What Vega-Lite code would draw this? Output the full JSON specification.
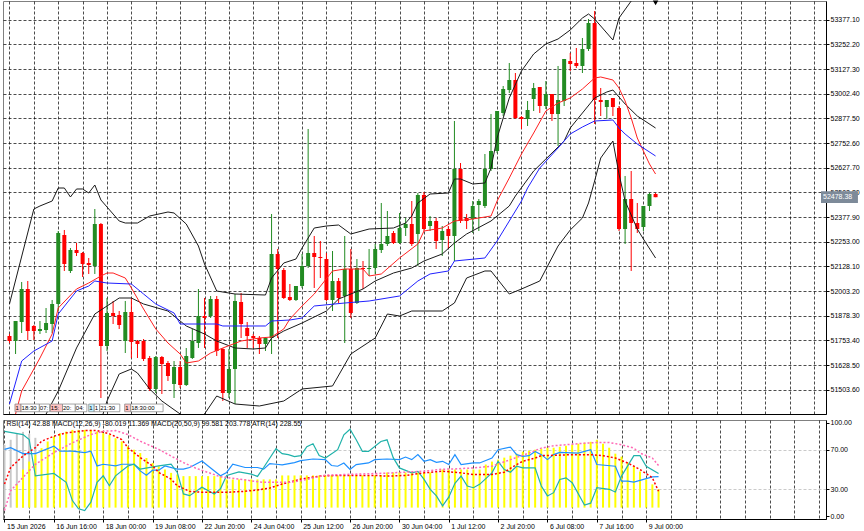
{
"$schema":"https://vega.github.io/schema/vega-lite/v6.json",
"padding":0,
"background":"#ffffff",
"spacing":3,
"resolve":{"scale":{"x":"independent","y":"independent","color":"independent"}},
"config":{"view":{"stroke":"#808080"},"axis":{"labelFont":"Liberation Sans","labelFontSize":7,"labelColor":"#000000","tickColor":"#000000","gridColor":"#000000","gridDash":[3,2],"gridOpacity":0.7,"gridWidth":1,"labelOverlap":false},"text":{"font":"Liberation Sans"}},
"datasets":{
"bars":[
{"k":0,"o":51775.5,"h":51785.7,"l":51740.1,"c":51750.2,"m":null,"g":75},
{"k":1,"o":51750.2,"h":51851.5,"l":51684.4,"c":51851.5,"m":null,"g":80},
{"k":2,"o":51846.4,"h":52049.0,"l":51790.7,"c":52013.5,"m":35,"g":86},
{"k":3,"o":52013.5,"h":52054.0,"l":51755.3,"c":51800.8,"m":50,"g":88},
{"k":4,"o":51826.2,"h":51831.2,"l":51755.3,"c":51800.8,"m":58,"g":86},
{"k":5,"o":51800.8,"h":51851.5,"l":51785.7,"c":51811.0,"m":65,"g":82},
{"k":6,"o":51805.9,"h":51917.3,"l":51790.7,"c":51841.4,"m":71.6},
{"k":7,"o":51836.3,"h":51957.9,"l":51790.7,"c":51937.6,"m":78.3},
{"k":8,"o":51937.6,"h":52307.2,"l":51902.1,"c":52297.1,"m":83.3},
{"k":9,"o":52287.0,"h":52312.3,"l":52104.7,"c":52140.1,"m":86.6},
{"k":10,"o":52104.7,"h":52221.1,"l":52094.5,"c":52211.0,"m":88.3},
{"k":11,"o":52211.0,"h":52246.5,"l":52180.6,"c":52195.8,"m":90},
{"k":12,"o":52195.8,"h":52200.9,"l":52074.3,"c":52140.1,"m":90},
{"k":13,"o":52145.2,"h":52170.5,"l":52089.5,"c":52135.0,"m":90},
{"k":14,"o":52130.0,"h":52418.6,"l":52089.5,"c":52342.6,"m":90},
{"k":15,"o":52342.6,"h":52347.7,"l":51461.6,"c":51724.9,"m":88.3},
{"k":16,"o":51724.9,"h":51968.0,"l":51699.6,"c":51892.0,"m":86.6},
{"k":17,"o":51892.0,"h":51952.8,"l":51836.3,"c":51876.8,"m":85},
{"k":18,"o":51881.9,"h":51902.1,"l":51811.0,"c":51831.2,"m":81.6},
{"k":19,"o":51750.2,"h":51952.8,"l":51689.4,"c":51897.1,"m":78.3},
{"k":20,"o":51897.1,"h":51968.0,"l":51664.1,"c":51745.1,"m":73.3},
{"k":21,"o":51750.2,"h":51755.3,"l":51664.1,"c":51735.0,"m":70},
{"k":22,"o":51750.2,"h":51760.3,"l":51648.9,"c":51659.1,"m":66.6},
{"k":23,"o":51664.1,"h":51674.3,"l":51497.1,"c":51507.2,"m":61.6},
{"k":24,"o":51507.2,"h":51674.3,"l":51486.9,"c":51669.2,"m":56.6},
{"k":25,"o":51669.2,"h":51674.3,"l":51481.9,"c":51633.7,"m":53.3},
{"k":26,"o":51638.8,"h":51648.9,"l":51547.7,"c":51573.0,"m":50},
{"k":27,"o":51532.5,"h":51648.9,"l":51461.6,"c":51618.6,"m":46.6},
{"k":28,"o":51618.6,"h":51648.9,"l":51512.2,"c":51527.4,"m":45},
{"k":29,"o":51527.4,"h":51714.8,"l":51522.4,"c":51674.3,"m":43.3},
{"k":30,"o":51664.1,"h":51811.0,"l":51659.1,"c":51750.2,"m":43.3},
{"k":31,"o":51740.1,"h":52013.5,"l":51714.8,"c":51876.8,"m":43.3},
{"k":32,"o":51876.8,"h":51968.0,"l":51714.8,"c":51866.7,"m":43.3},
{"k":33,"o":51876.8,"h":51978.1,"l":51866.7,"c":51962.9,"m":43.3},
{"k":34,"o":51962.9,"h":51978.1,"l":51674.3,"c":51699.6,"m":43.3},
{"k":35,"o":51709.7,"h":51714.8,"l":51446.4,"c":51486.9,"m":43.3},
{"k":36,"o":51486.9,"h":51709.7,"l":51461.6,"c":51608.4,"m":40},
{"k":37,"o":51608.4,"h":51988.2,"l":51431.2,"c":51952.8,"m":40},
{"k":38,"o":51947.7,"h":51993.3,"l":51765.4,"c":51836.3,"m":40},
{"k":39,"o":51816.0,"h":51846.4,"l":51714.8,"c":51775.5,"m":40},
{"k":40,"o":51775.5,"h":51785.7,"l":51714.8,"c":51765.4,"m":40},
{"k":41,"o":51765.4,"h":51775.5,"l":51684.4,"c":51735.0,"m":40},
{"k":42,"o":51735.0,"h":51770.5,"l":51699.6,"c":51765.4,"m":40},
{"k":43,"o":51765.4,"h":52393.3,"l":51684.4,"c":52190.7,"m":40},
{"k":44,"o":52190.7,"h":52216.1,"l":51765.4,"c":52114.8,"m":40},
{"k":45,"o":52109.7,"h":52119.8,"l":51962.9,"c":51968.0,"m":44},
{"k":46,"o":51973.0,"h":52038.8,"l":51952.8,"c":51957.9,"m":44},
{"k":47,"o":51957.9,"h":52028.7,"l":51952.8,"c":52028.7,"m":44},
{"k":48,"o":52028.7,"h":52190.7,"l":52018.6,"c":52130.0,"m":44},
{"k":49,"o":52130.0,"h":52823.7,"l":52119.8,"c":52195.8,"m":44},
{"k":50,"o":52195.8,"h":52281.9,"l":52018.6,"c":52175.5,"m":44},
{"k":51,"o":52175.5,"h":52256.6,"l":52069.2,"c":52170.5,"m":44},
{"k":52,"o":52165.4,"h":52195.8,"l":51952.8,"c":51957.9,"m":44},
{"k":53,"o":51957.9,"h":52205.9,"l":51902.1,"c":52054.0,"m":44},
{"k":54,"o":52054.0,"h":52069.2,"l":51942.6,"c":51968.0,"m":44},
{"k":55,"o":51978.1,"h":52281.9,"l":51740.1,"c":52114.8,"m":44},
{"k":56,"o":52114.8,"h":52216.1,"l":51866.7,"c":51892.0,"m":44},
{"k":57,"o":51942.6,"h":52165.4,"l":51937.6,"c":52119.8,"m":44},
{"k":58,"o":52119.8,"h":52155.3,"l":52013.5,"c":52114.8,"m":44},
{"k":59,"o":52114.8,"h":52216.1,"l":52079.3,"c":52119.8,"m":44},
{"k":60,"o":52119.8,"h":52241.4,"l":52089.5,"c":52216.1,"m":44},
{"k":61,"o":52211.0,"h":52449.0,"l":52195.8,"c":52241.4,"m":44},
{"k":62,"o":52241.4,"h":52408.5,"l":52231.2,"c":52281.9,"m":47},
{"k":63,"o":52297.1,"h":52307.2,"l":52241.4,"c":52246.5,"m":47},
{"k":64,"o":52246.5,"h":52398.3,"l":52241.4,"c":52322.4,"m":47},
{"k":65,"o":52322.4,"h":52373.0,"l":52281.9,"c":52342.6,"m":47},
{"k":66,"o":52342.6,"h":52459.1,"l":52231.2,"c":52241.4,"m":47},
{"k":67,"o":52292.0,"h":52499.6,"l":52130.0,"c":52489.5,"m":47},
{"k":68,"o":52489.5,"h":52504.7,"l":52307.2,"c":52317.3,"m":47},
{"k":69,"o":52332.5,"h":52383.1,"l":52307.2,"c":52357.8,"m":47},
{"k":70,"o":52357.8,"h":52373.0,"l":52216.1,"c":52256.6,"m":47},
{"k":71,"o":52261.7,"h":52332.5,"l":52180.6,"c":52307.2,"m":50},
{"k":72,"o":52317.3,"h":52332.5,"l":52216.1,"c":52281.9,"m":50},
{"k":73,"o":52281.9,"h":52864.2,"l":52155.3,"c":52621.1,"m":50},
{"k":74,"o":52621.1,"h":52651.5,"l":52347.7,"c":52357.8,"m":50},
{"k":75,"o":52373.0,"h":52393.3,"l":52317.3,"c":52357.8,"m":50},
{"k":76,"o":52368.0,"h":52459.1,"l":52297.1,"c":52433.8,"m":50},
{"k":77,"o":52438.8,"h":52469.2,"l":52307.2,"c":52459.1,"m":50},
{"k":78,"o":52433.8,"h":52697.1,"l":52423.6,"c":52621.1,"m":55},
{"k":79,"o":52621.1,"h":52899.6,"l":52611.0,"c":52712.3,"m":58},
{"k":80,"o":52712.3,"h":52914.8,"l":52702.1,"c":52914.8,"m":60},
{"k":81,"o":52904.7,"h":53041.4,"l":52889.5,"c":53026.2,"m":62},
{"k":82,"o":53021.1,"h":53157.9,"l":53006.0,"c":53071.8,"m":64},
{"k":83,"o":53071.8,"h":53107.2,"l":52874.3,"c":52879.4,"m":66},
{"k":84,"o":52884.4,"h":52889.5,"l":52823.7,"c":52874.3,"m":68},
{"k":85,"o":52874.3,"h":52965.5,"l":52838.9,"c":52919.9,"m":69},
{"k":86,"o":52975.6,"h":53056.6,"l":52914.8,"c":53031.3,"m":70},
{"k":87,"o":53036.3,"h":53036.3,"l":52904.7,"c":52940.1,"m":71},
{"k":88,"o":52940.1,"h":53066.7,"l":52924.9,"c":53000.9,"m":72},
{"k":89,"o":53000.9,"h":53000.9,"l":52864.2,"c":52899.6,"m":72},
{"k":90,"o":52899.6,"h":53142.7,"l":52737.6,"c":52970.5,"m":73},
{"k":91,"o":52965.5,"h":53178.2,"l":52940.1,"c":53178.2,"m":74},
{"k":92,"o":53168.0,"h":53208.5,"l":53117.4,"c":53152.8,"m":75},
{"k":93,"o":53157.9,"h":53233.8,"l":53132.5,"c":53142.7,"m":76},
{"k":94,"o":53142.7,"h":53284.5,"l":53107.2,"c":53228.8,"m":77},
{"k":95,"o":53228.8,"h":53380.7,"l":53218.6,"c":53360.4,"m":78},
{"k":96,"o":53360.4,"h":53421.2,"l":52849.0,"c":52970.5,"m":80},
{"k":97,"o":52970.5,"h":53031.3,"l":52889.5,"c":52960.4,"m":76},
{"k":98,"o":52935.1,"h":52970.5,"l":52874.3,"c":52970.5,"m":72},
{"k":99,"o":52980.6,"h":52980.6,"l":52889.5,"c":52935.1,"m":66},
{"k":100,"o":52930.0,"h":52940.1,"l":52307.2,"c":52317.3,"m":63},
{"k":101,"o":52317.3,"h":52585.7,"l":52241.4,"c":52469.2,"m":57},
{"k":102,"o":52469.2,"h":52611.0,"l":52104.7,"c":52347.7,"m":53},
{"k":103,"o":52347.7,"h":52449.0,"l":52297.1,"c":52317.3,"m":48},
{"k":104,"o":52327.4,"h":52433.8,"l":52307.2,"c":52433.8,"m":40},
{"k":105,"o":52433.8,"h":52499.6,"l":52408.5,"c":52494.5,"m":35},
{"k":106,"o":52494.5,"h":52499.6,"l":52478.38,"c":52478.38,"m":30}
],
"lines":[
{"s":"ub","k":0,"v":51937.6},{"s":"ub","k":4,"v":52418.6},{"s":"ub","k":5,"v":52433.8},{"s":"ub","k":7,"v":52459.1},{"s":"ub","k":8,"v":52524.9},{"s":"ub","k":9,"v":52524.9},{"s":"ub","k":10,"v":52479.4},{"s":"ub","k":11,"v":52519.9},{"s":"ub","k":12,"v":52519.9},{"s":"ub","k":13,"v":52499.6},{"s":"ub","k":14,"v":52540.1},{"s":"ub","k":15,"v":52464.2},{"s":"ub","k":18,"v":52357.8},{"s":"ub","k":19,"v":52347.7},{"s":"ub","k":21,"v":52347.7},{"s":"ub","k":23,"v":52383.1},{"s":"ub","k":26,"v":52403.4},{"s":"ub","k":27,"v":52398.4},{"s":"ub","k":29,"v":52342.6},{"s":"ub","k":31,"v":52231.2},{"s":"ub","k":32,"v":52140.1},{"s":"ub","k":34,"v":52003.4},{"s":"ub","k":37,"v":51988.2},{"s":"ub","k":42,"v":51983.1},{"s":"ub","k":43,"v":52069.2},{"s":"ub","k":45,"v":52145.2},{"s":"ub","k":47,"v":52165.4},{"s":"ub","k":48,"v":52221.1},{"s":"ub","k":50,"v":52322.4},{"s":"ub","k":52,"v":52332.5},{"s":"ub","k":54,"v":52337.6},{"s":"ub","k":56,"v":52292.0},{"s":"ub","k":59,"v":52317.3},{"s":"ub","k":63,"v":52322.4},{"s":"ub","k":65,"v":52347.7},{"s":"ub","k":66,"v":52383.1},{"s":"ub","k":67,"v":52449.0},{"s":"ub","k":69,"v":52494.5},{"s":"ub","k":72,"v":52499.6},{"s":"ub","k":73,"v":52570.5},{"s":"ub","k":74,"v":52570.5},{"s":"ub","k":76,"v":52545.2},{"s":"ub","k":78,"v":52550.2},{"s":"ub","k":79,"v":52626.2},{"s":"ub","k":80,"v":52778.1},{"s":"ub","k":82,"v":52980.6},{"s":"ub","k":84,"v":53117.4},{"s":"ub","k":86,"v":53203.4},{"s":"ub","k":88,"v":53254.1},{"s":"ub","k":90,"v":53279.4},{"s":"ub","k":92,"v":53325.0},{"s":"ub","k":94,"v":53385.7},{"s":"ub","k":95,"v":53406.0},{"s":"ub","k":96,"v":53380.7},{"s":"ub","k":99,"v":53274.3},{"s":"ub","k":100,"v":53385.7},{"s":"ub","k":102,"v":53471.8},{"s":"ub","k":104,"v":53560},{"s":"ub","k":106,"v":53640},
{"s":"mb","k":0,"v":50950},{"s":"mb","k":6,"v":51380},{"s":"mb","k":8,"v":51497.0},{"s":"mb","k":11,"v":51714.8},{"s":"mb","k":14,"v":51886.9},{"s":"mb","k":18,"v":51967.9},{"s":"mb","k":20,"v":51967.9},{"s":"mb","k":22,"v":51937.6},{"s":"mb","k":26,"v":51902.1},{"s":"mb","k":28,"v":51851.5},{"s":"mb","k":29,"v":51826.2},{"s":"mb","k":32,"v":51785.7},{"s":"mb","k":34,"v":51750.2},{"s":"mb","k":37,"v":51714.8},{"s":"mb","k":40,"v":51709.7},{"s":"mb","k":42,"v":51714.8},{"s":"mb","k":43,"v":51765.4},{"s":"mb","k":45,"v":51800.8},{"s":"mb","k":48,"v":51841.4},{"s":"mb","k":52,"v":51902.1},{"s":"mb","k":54,"v":51962.9},{"s":"mb","k":58,"v":52013.5},{"s":"mb","k":60,"v":52054.0},{"s":"mb","k":63,"v":52094.5},{"s":"mb","k":66,"v":52119.8},{"s":"mb","k":68,"v":52155.3},{"s":"mb","k":71,"v":52190.7},{"s":"mb","k":73,"v":52246.4},{"s":"mb","k":75,"v":52292.0},{"s":"mb","k":79,"v":52357.8},{"s":"mb","k":82,"v":52433.8},{"s":"mb","k":83,"v":52484.4},{"s":"mb","k":86,"v":52611.0},{"s":"mb","k":88,"v":52671.8},{"s":"mb","k":90,"v":52732.5},{"s":"mb","k":91,"v":52762.9},{"s":"mb","k":92,"v":52828.7},{"s":"mb","k":94,"v":52904.7},{"s":"mb","k":96,"v":52980.6},{"s":"mb","k":98,"v":53011.0},{"s":"mb","k":99,"v":53021.1},{"s":"mb","k":101,"v":52950.3},{"s":"mb","k":103,"v":52889.5},{"s":"mb","k":106,"v":52828.7},
{"s":"lb","k":0,"v":49960},{"s":"lb","k":8,"v":50470},{"s":"lb","k":12,"v":51040},{"s":"lb","k":14,"v":51234},{"s":"lb","k":15,"v":51345.1},{"s":"lb","k":16,"v":51446.4},{"s":"lb","k":18,"v":51583.1},{"s":"lb","k":20,"v":51608.4},{"s":"lb","k":21,"v":51588.2},{"s":"lb","k":23,"v":51507.2},{"s":"lb","k":25,"v":51446.4},{"s":"lb","k":28,"v":51380.6},{"s":"lb","k":30,"v":51345.0},{"s":"lb","k":32,"v":51380.6},{"s":"lb","k":34,"v":51471.7},{"s":"lb","k":37,"v":51431.2},{"s":"lb","k":41,"v":51421.1},{"s":"lb","k":45,"v":51446.4},{"s":"lb","k":48,"v":51507.2},{"s":"lb","k":53,"v":51522.4},{"s":"lb","k":56,"v":51684.4},{"s":"lb","k":60,"v":51765.4},{"s":"lb","k":62,"v":51886.9},{"s":"lb","k":64,"v":51876.8},{"s":"lb","k":66,"v":51902.1},{"s":"lb","k":71,"v":51902.1},{"s":"lb","k":73,"v":51942.6},{"s":"lb","k":75,"v":52069.2},{"s":"lb","k":78,"v":52104.7},{"s":"lb","k":79,"v":52104.7},{"s":"lb","k":82,"v":51988.2},{"s":"lb","k":84,"v":52013.5},{"s":"lb","k":87,"v":52054.0},{"s":"lb","k":90,"v":52231.2},{"s":"lb","k":92,"v":52312.3},{"s":"lb","k":94,"v":52373.0},{"s":"lb","k":95,"v":52449.0},{"s":"lb","k":96,"v":52560.4},{"s":"lb","k":97,"v":52676.8},{"s":"lb","k":99,"v":52762.9},{"s":"lb","k":100,"v":52595.8},{"s":"lb","k":101,"v":52459.1},{"s":"lb","k":103,"v":52317.3},{"s":"lb","k":104,"v":52266.7},{"s":"lb","k":106,"v":52170.5},
{"s":"ma","k":0,"v":51250},{"s":"ma","k":1,"v":51380.6},{"s":"ma","k":2,"v":51497.0},{"s":"ma","k":5,"v":51664.1},{"s":"ma","k":7,"v":51785.7},{"s":"ma","k":8,"v":51917.3},{"s":"ma","k":11,"v":52013.5},{"s":"ma","k":13,"v":52043.9},{"s":"ma","k":15,"v":52079.3},{"s":"ma","k":16,"v":52094.5},{"s":"ma","k":17,"v":52094.5},{"s":"ma","k":19,"v":52069.2},{"s":"ma","k":20,"v":52018.6},{"s":"ma","k":22,"v":51912.2},{"s":"ma","k":24,"v":51811.0},{"s":"ma","k":26,"v":51740.1},{"s":"ma","k":28,"v":51684.4},{"s":"ma","k":29,"v":51638.8},{"s":"ma","k":31,"v":51649.0},{"s":"ma","k":33,"v":51689.4},{"s":"ma","k":35,"v":51714.8},{"s":"ma","k":38,"v":51750.2},{"s":"ma","k":41,"v":51765.4},{"s":"ma","k":43,"v":51770.5},{"s":"ma","k":45,"v":51811.0},{"s":"ma","k":46,"v":51861.6},{"s":"ma","k":48,"v":51927.4},{"s":"ma","k":50,"v":51988.2},{"s":"ma","k":53,"v":52104.7},{"s":"ma","k":55,"v":52114.8},{"s":"ma","k":58,"v":52114.8},{"s":"ma","k":59,"v":52079.3},{"s":"ma","k":61,"v":52089.5},{"s":"ma","k":64,"v":52170.5},{"s":"ma","k":67,"v":52241.4},{"s":"ma","k":68,"v":52307.2},{"s":"ma","k":71,"v":52322.4},{"s":"ma","k":73,"v":52357.8},{"s":"ma","k":76,"v":52368.0},{"s":"ma","k":79,"v":52383.1},{"s":"ma","k":80,"v":52459.1},{"s":"ma","k":82,"v":52575.6},{"s":"ma","k":84,"v":52697.1},{"s":"ma","k":86,"v":52803.4},{"s":"ma","k":88,"v":52914.8},{"s":"ma","k":90,"v":52955.3},{"s":"ma","k":92,"v":52980.6},{"s":"ma","k":94,"v":53026.2},{"s":"ma","k":96,"v":53081.9},{"s":"ma","k":97,"v":53087.0},{"s":"ma","k":99,"v":53071.8},{"s":"ma","k":100,"v":53031.3},{"s":"ma","k":101,"v":52965.4},{"s":"ma","k":102,"v":52879.4},{"s":"ma","k":103,"v":52778.1},{"s":"ma","k":104,"v":52712.3},{"s":"ma","k":105,"v":52646.4},{"s":"ma","k":106,"v":52595.8},
{"s":"ma2","k":0,"v":51431.2},{"s":"ma2","k":2,"v":51648.9},{"s":"ma2","k":4,"v":51699.6},{"s":"ma2","k":7,"v":51750.2},{"s":"ma2","k":8,"v":51886.9},{"s":"ma2","k":11,"v":52003.4},{"s":"ma2","k":13,"v":52028.7},{"s":"ma2","k":14,"v":52054.0},{"s":"ma2","k":16,"v":52043.9},{"s":"ma2","k":20,"v":52038.8},{"s":"ma2","k":22,"v":51988.2},{"s":"ma2","k":24,"v":51937.6},{"s":"ma2","k":27,"v":51892.0},{"s":"ma2","k":28,"v":51836.3},{"s":"ma2","k":34,"v":51836.3},{"s":"ma2","k":35,"v":51826.2},{"s":"ma2","k":42,"v":51826.2},{"s":"ma2","k":43,"v":51851.5},{"s":"ma2","k":46,"v":51856.5},{"s":"ma2","k":48,"v":51866.7},{"s":"ma2","k":50,"v":51927.4},{"s":"ma2","k":55,"v":51942.6},{"s":"ma2","k":59,"v":51952.7},{"s":"ma2","k":64,"v":51978.1},{"s":"ma2","k":67,"v":52054.0},{"s":"ma2","k":69,"v":52089.5},{"s":"ma2","k":72,"v":52104.7},{"s":"ma2","k":73,"v":52155.3},{"s":"ma2","k":78,"v":52170.5},{"s":"ma2","k":80,"v":52256.6},{"s":"ma2","k":82,"v":52357.8},{"s":"ma2","k":84,"v":52459.1},{"s":"ma2","k":85,"v":52524.9},{"s":"ma2","k":87,"v":52626.2},{"s":"ma2","k":90,"v":52727.5},{"s":"ma2","k":92,"v":52798.4},{"s":"ma2","k":94,"v":52833.8},{"s":"ma2","k":96,"v":52864.2},{"s":"ma2","k":99,"v":52869.2},{"s":"ma2","k":100,"v":52828.7},{"s":"ma2","k":101,"v":52798.4},{"s":"ma2","k":103,"v":52747.7},{"s":"ma2","k":106,"v":52687.0}
],
"ind":[
{"s":"rsi","k":0,"v":70.3},{"s":"rsi","k":1,"v":72},{"s":"rsi","k":3,"v":66},{"s":"rsi","k":5,"v":66},{"s":"rsi","k":8,"v":73.6},{"s":"rsi","k":9,"v":68.6},{"s":"rsi","k":11,"v":68.6},{"s":"rsi","k":13,"v":67},{"s":"rsi","k":14,"v":68.6},{"s":"rsi","k":15,"v":53.6},{"s":"rsi","k":16,"v":55.3},{"s":"rsi","k":18,"v":53.6},{"s":"rsi","k":19,"v":55.3},{"s":"rsi","k":21,"v":55.3},{"s":"rsi","k":22,"v":48.6},{"s":"rsi","k":23,"v":44.3},{"s":"rsi","k":24,"v":49.3},{"s":"rsi","k":25,"v":49.3},{"s":"rsi","k":26,"v":53.6},{"s":"rsi","k":28,"v":50.3},{"s":"rsi","k":29,"v":50.3},{"s":"rsi","k":30,"v":52},{"s":"rsi","k":32,"v":58.6},{"s":"rsi","k":33,"v":53.6},{"s":"rsi","k":35,"v":43.6},{"s":"rsi","k":36,"v":47},{"s":"rsi","k":37,"v":55.3},{"s":"rsi","k":39,"v":52},{"s":"rsi","k":41,"v":52},{"s":"rsi","k":42,"v":50.3},{"s":"rsi","k":43,"v":56},{"s":"rsi","k":44,"v":55.3},{"s":"rsi","k":45,"v":54.6},{"s":"rsi","k":47,"v":57},{"s":"rsi","k":48,"v":59},{"s":"rsi","k":50,"v":60.6},{"s":"rsi","k":52,"v":60},{"s":"rsi","k":53,"v":54},{"s":"rsi","k":54,"v":53.3},{"s":"rsi","k":55,"v":56.6},{"s":"rsi","k":56,"v":50},{"s":"rsi","k":57,"v":55},{"s":"rsi","k":59,"v":56.6},{"s":"rsi","k":60,"v":60},{"s":"rsi","k":62,"v":60.6},{"s":"rsi","k":64,"v":60},{"s":"rsi","k":65,"v":62.6},{"s":"rsi","k":66,"v":60},{"s":"rsi","k":67,"v":65},{"s":"rsi","k":68,"v":58.3},{"s":"rsi","k":69,"v":60},{"s":"rsi","k":70,"v":57.3},{"s":"rsi","k":71,"v":58.3},{"s":"rsi","k":72,"v":55},{"s":"rsi","k":73,"v":65},{"s":"rsi","k":74,"v":55},{"s":"rsi","k":76,"v":56.6},{"s":"rsi","k":77,"v":56.6},{"s":"rsi","k":79,"v":61.6},{"s":"rsi","k":80,"v":70},{"s":"rsi","k":82,"v":72.6},{"s":"rsi","k":83,"v":65},{"s":"rsi","k":84,"v":63.3},{"s":"rsi","k":85,"v":64},{"s":"rsi","k":86,"v":68.3},{"s":"rsi","k":87,"v":65},{"s":"rsi","k":88,"v":60},{"s":"rsi","k":89,"v":65},{"s":"rsi","k":90,"v":67.3},{"s":"rsi","k":93,"v":66.6},{"s":"rsi","k":95,"v":70},{"s":"rsi","k":96,"v":55},{"s":"rsi","k":99,"v":53.3},{"s":"rsi","k":100,"v":38.3},{"s":"rsi","k":101,"v":38.3},{"s":"rsi","k":102,"v":37.3},{"s":"rsi","k":105,"v":42.6},{"s":"rsi","k":106,"v":42.88},
{"s":"atr","k":0,"v":88.6},{"s":"atr","k":3,"v":85.3},{"s":"atr","k":4,"v":80.3},{"s":"atr","k":5,"v":43.6},{"s":"atr","k":8,"v":46},{"s":"atr","k":10,"v":37},{"s":"atr","k":11,"v":18.6},{"s":"atr","k":12,"v":10.3},{"s":"atr","k":13,"v":8.6},{"s":"atr","k":14,"v":17},{"s":"atr","k":15,"v":37},{"s":"atr","k":16,"v":43.6},{"s":"atr","k":17,"v":33.6},{"s":"atr","k":18,"v":43.6},{"s":"atr","k":20,"v":53.6},{"s":"atr","k":21,"v":55.3},{"s":"atr","k":22,"v":50.3},{"s":"atr","k":25,"v":53.6},{"s":"atr","k":27,"v":55.3},{"s":"atr","k":28,"v":47},{"s":"atr","k":29,"v":25.3},{"s":"atr","k":30,"v":23.6},{"s":"atr","k":32,"v":32},{"s":"atr","k":34,"v":25.3},{"s":"atr","k":35,"v":30.5},{"s":"atr","k":36,"v":44},{"s":"atr","k":38,"v":47.5},{"s":"atr","k":40,"v":45.3},{"s":"atr","k":41,"v":43},{"s":"atr","k":42,"v":52},{"s":"atr","k":44,"v":71},{"s":"atr","k":45,"v":66},{"s":"atr","k":46,"v":65},{"s":"atr","k":47,"v":63},{"s":"atr","k":48,"v":64},{"s":"atr","k":49,"v":73},{"s":"atr","k":50,"v":76},{"s":"atr","k":51,"v":64},{"s":"atr","k":52,"v":61.6},{"s":"atr","k":54,"v":70},{"s":"atr","k":55,"v":85},{"s":"atr","k":56,"v":90.6},{"s":"atr","k":57,"v":80},{"s":"atr","k":58,"v":68.3},{"s":"atr","k":59,"v":68.3},{"s":"atr","k":61,"v":78.3},{"s":"atr","k":62,"v":80},{"s":"atr","k":63,"v":62},{"s":"atr","k":64,"v":51.6},{"s":"atr","k":66,"v":46.6},{"s":"atr","k":67,"v":48},{"s":"atr","k":68,"v":40},{"s":"atr","k":69,"v":30},{"s":"atr","k":70,"v":23.3},{"s":"atr","k":71,"v":13.3},{"s":"atr","k":72,"v":22},{"s":"atr","k":73,"v":36},{"s":"atr","k":74,"v":43.3},{"s":"atr","k":75,"v":33.3},{"s":"atr","k":76,"v":31.6},{"s":"atr","k":77,"v":35},{"s":"atr","k":79,"v":46.6},{"s":"atr","k":80,"v":58.3},{"s":"atr","k":81,"v":50},{"s":"atr","k":82,"v":47.3},{"s":"atr","k":83,"v":53.3},{"s":"atr","k":84,"v":51.6},{"s":"atr","k":86,"v":51.6},{"s":"atr","k":87,"v":33.3},{"s":"atr","k":88,"v":23.3},{"s":"atr","k":89,"v":26.6},{"s":"atr","k":90,"v":40},{"s":"atr","k":91,"v":41.6},{"s":"atr","k":92,"v":36.6},{"s":"atr","k":94,"v":14},{"s":"atr","k":95,"v":16},{"s":"atr","k":96,"v":31.6},{"s":"atr","k":98,"v":30},{"s":"atr","k":99,"v":27.3},{"s":"atr","k":100,"v":43.3},{"s":"atr","k":102,"v":64},{"s":"atr","k":103,"v":64},{"s":"atr","k":104,"v":53.3},{"s":"atr","k":106,"v":46},
{"s":"s1","k":0,"v":35.3},{"s":"s1","k":1,"v":52},{"s":"s1","k":3,"v":63.6},{"s":"s1","k":5,"v":72},{"s":"s1","k":6,"v":78.6},{"s":"s1","k":8,"v":83.6},{"s":"s1","k":10,"v":87},{"s":"s1","k":13,"v":89.3},{"s":"s1","k":15,"v":89.3},{"s":"s1","k":17,"v":86},{"s":"s1","k":19,"v":80.3},{"s":"s1","k":20,"v":72},{"s":"s1","k":22,"v":62},{"s":"s1","k":24,"v":53.6},{"s":"s1","k":25,"v":47},{"s":"s1","k":27,"v":40.3},{"s":"s1","k":28,"v":33.6},{"s":"s1","k":30,"v":28},{"s":"s1","k":32,"v":27},{"s":"s1","k":34,"v":27},{"s":"s1","k":36,"v":27},{"s":"s1","k":39,"v":28},{"s":"s1","k":41,"v":29.3},{"s":"s1","k":43,"v":31.3},{"s":"s1","k":45,"v":35.3},{"s":"s1","k":47,"v":38.6},{"s":"s1","k":48,"v":40.3},{"s":"s1","k":51,"v":43.3},{"s":"s1","k":54,"v":44},{"s":"s1","k":57,"v":44},{"s":"s1","k":60,"v":44},{"s":"s1","k":62,"v":43.3},{"s":"s1","k":65,"v":44},{"s":"s1","k":68,"v":46.6},{"s":"s1","k":71,"v":48.3},{"s":"s1","k":74,"v":46.6},{"s":"s1","k":76,"v":45},{"s":"s1","k":79,"v":45},{"s":"s1","k":81,"v":47.3},{"s":"s1","k":83,"v":55},{"s":"s1","k":84,"v":58.3},{"s":"s1","k":86,"v":61.6},{"s":"s1","k":87,"v":64},{"s":"s1","k":89,"v":64.3},{"s":"s1","k":92,"v":65},{"s":"s1","k":95,"v":65},{"s":"s1","k":97,"v":64},{"s":"s1","k":99,"v":61.6},{"s":"s1","k":101,"v":56.6},{"s":"s1","k":103,"v":50},{"s":"s1","k":105,"v":41.6},{"s":"s1","k":106,"v":28},
{"s":"s2","k":0,"v":8.6},{"s":"s2","k":1,"v":28.6},{"s":"s2","k":3,"v":42},{"s":"s2","k":5,"v":55.3},{"s":"s2","k":8,"v":67},{"s":"s2","k":11,"v":77},{"s":"s2","k":14,"v":85.3},{"s":"s2","k":16,"v":88.6},{"s":"s2","k":18,"v":89.3},{"s":"s2","k":20,"v":85.3},{"s":"s2","k":22,"v":78.6},{"s":"s2","k":25,"v":70.3},{"s":"s2","k":27,"v":63.6},{"s":"s2","k":29,"v":57},{"s":"s2","k":31,"v":51.3},{"s":"s2","k":33,"v":47},{"s":"s2","k":35,"v":42.6},{"s":"s2","k":38,"v":40.3},{"s":"s2","k":40,"v":38.6},{"s":"s2","k":42,"v":37},{"s":"s2","k":44,"v":37},{"s":"s2","k":46,"v":37},{"s":"s2","k":48,"v":38.6},{"s":"s2","k":52,"v":44.3},{"s":"s2","k":57,"v":45.3},{"s":"s2","k":62,"v":46.3},{"s":"s2","k":68,"v":48.3},{"s":"s2","k":71,"v":50.3},{"s":"s2","k":73,"v":50.6},{"s":"s2","k":76,"v":51.6},{"s":"s2","k":79,"v":53.3},{"s":"s2","k":82,"v":60},{"s":"s2","k":85,"v":66.6},{"s":"s2","k":87,"v":71.6},{"s":"s2","k":89,"v":74},{"s":"s2","k":92,"v":75.6},{"s":"s2","k":94,"v":76.6},{"s":"s2","k":96,"v":77.3},{"s":"s2","k":98,"v":77.3},{"s":"s2","k":100,"v":75},{"s":"s2","k":102,"v":71.6},{"s":"s2","k":103,"v":66.6},{"s":"s2","k":105,"v":61.6},{"s":"s2","k":106,"v":54}
],
"ev":[
{"a":0.9,"b":1.9,"t":"1","cat":"p"},{"a":1.9,"b":4.9,"t":"18:30","cat":"w"},{"a":4.9,"b":6.6,"t":"07:","cat":"w"},{"a":6.7,"b":8.7,"t":"15:","cat":"p"},{"a":8.7,"b":10.8,"t":"20:","cat":"w"},{"a":10.8,"b":12.7,"t":"04:","cat":"w"},{"a":13.0,"b":13.9,"t":"1","cat":"c"},{"a":13.9,"b":14.8,"t":"1","cat":"w"},{"a":14.8,"b":18.1,"t":"21:30","cat":"w"},{"a":18.9,"b":19.9,"t":"1","cat":"p"},{"a":19.9,"b":25.2,"t":"18:30:00","cat":"w"}
]
},
"vconcat":[
{"width":823,"height":413,
"layer":[
{"data":{"name":"bars"},"mark":{"type":"rule","strokeWidth":1,"clip":true},
"encoding":{
"x":{"field":"k","type":"quantitative","scale":{"domain":[-0.243,133.14],"nice":false,"zero":false},"axis":{"orient":"bottom","values":[0,4,8,12,16,20,24,28,32,36,40,44,48,52,56,60,64,68,72,76,80,84,88,92,96,100,104,108,112,116,120,124,128,132],"tickCount":60,"labels":false,"ticks":false,"domain":true,"domainColor":"#000000","grid":true,"title":null}},
"y":{"field":"l","type":"quantitative","scale":{"domain":[51380.6,53471.8],"nice":false,"zero":false},"axis":{"orient":"right","values":[51503.6,51628.5,51753.4,51878.3,52003.2,52128.1,52253.0,52377.9,52502.8,52627.7,52752.6,52877.5,53002.4,53127.3,53252.2,53377.1],"tickCount":40,"format":".2f","tickSize":3,"labelPadding":1,"labelFlush":false,"labelOverlap":false,"labelBound":false,"domainColor":"#000000","grid":true,"title":null}},
"y2":{"field":"h"},
"color":{"condition":{"test":"datum.c >= datum.o","value":"#228b22"},"value":"#ff0000"}}},
{"data":{"name":"bars"},"mark":{"type":"bar","width":4,"clip":true},
"encoding":{
"x":{"field":"k","type":"quantitative"},
"y":{"field":"o","type":"quantitative"},
"y2":{"field":"c"},
"color":{"condition":{"test":"datum.c >= datum.o","value":"#228b22"},"value":"#ff0000"}}},
{"data":{"name":"lines"},"mark":{"type":"line","strokeWidth":1,"clip":true},
"encoding":{
"x":{"field":"k","type":"quantitative"},
"y":{"field":"v","type":"quantitative"},
"color":{"field":"s","type":"nominal","scale":{"domain":["ub","mb","lb","ma","ma2"],"range":["#1a1a1a","#1a1a1a","#1a1a1a","#ff2020","#2020ff"]},"legend":null}}},
{"data":{"name":"ev"},"mark":{"type":"rect","stroke":"#808080","strokeWidth":0.7},
"encoding":{
"x":{"field":"a","type":"quantitative"},"x2":{"field":"b"},
"y":{"datum":51431},"y2":{"datum":51392},
"fill":{"field":"cat","type":"nominal","scale":{"domain":["p","c","w"],"range":["#ffc4c4","#c4f0ff","#ffffff"]},"legend":null}}},
{"data":{"name":"ev"},"mark":{"type":"text","align":"left","baseline":"middle","dx":0.5,"fontSize":6,"color":"#000000"},
"encoding":{"x":{"field":"a","type":"quantitative"},"y":{"datum":51411},"text":{"field":"t"}}},
{"data":{"values":[{"p":52478.38}]},"mark":{"type":"rect","fill":"#7d8a99","clip":false},
"encoding":{"x":{"datum":133.14},"x2":{"datum":139.2},"y":{"datum":52508},"y2":{"datum":52449}}},
{"data":{"values":[{"p":52478.38}]},"mark":{"type":"text","align":"left","baseline":"middle","dx":2,"fontSize":7,"color":"#ffffff","clip":false},
"encoding":{"x":{"datum":133.14},"y":{"field":"p","type":"quantitative"},"text":{"field":"p","type":"quantitative","format":".2f"}}},
{"data":{"values":[{"k":106}]},"mark":{"type":"point","shape":"triangle-down","filled":true,"color":"#000000","size":30,"opacity":1,"clip":false},
"encoding":{"x":{"field":"k","type":"quantitative"},"y":{"datum":53462}}}
]},
{"width":823,"height":99,
"layer":[
{"data":{"name":"bars"},"transform":[{"filter":"isValid(datum.g)"}],"mark":{"type":"rule","color":"#c8c8c8","strokeWidth":2},
"encoding":{
"x":{"field":"k","type":"quantitative","scale":{"domain":[-0.243,133.14],"nice":false,"zero":false},"axis":{"orient":"bottom","values":[0,4,8,12,16,20,24,28,32,36,40,44,48,52,56,60,64,68,72,76,80,84,88,92,96,100,104,108,112,116,120,124,128,132],"tickCount":60,"grid":true,"labelExpr":"(datum.value % 8 === 0 && datum.value <= 104) ? ['15 Jun 2026','16 Jun 16:00','18 Jun 00:00','19 Jun 08:00','22 Jun 20:00','24 Jun 04:00','25 Jun 12:00','26 Jun 20:00','30 Jun 04:00','1 Jul 12:00','2 Jul 20:00','6 Jul 08:00','7 Jul 16:00','9 Jul 00:00'][datum.value / 8] : ''","labelAlign":"left","labelOffset":2,"labelPadding":0,"labelFlush":false,"labelOverlap":false,"labelBound":false,"tickSize":3,"tickOpacity":{"condition":{"test":"datum.value % 8 === 0 && datum.value <= 104","value":1},"value":0},"domainColor":"#000000","title":null}},
"y":{"field":"g","type":"quantitative","scale":{"domain":[0,100],"nice":false,"zero":false},"axis":{"orient":"right","values":[3,30,70,97],"tickCount":20,"labelExpr":"datum.value < 5 ? '0.00' : (datum.value > 95 ? '100.00' : format(datum.value, '.2f'))","labelFlush":false,"labelOverlap":false,"labelBound":false,"tickSize":3,"labelPadding":1,"grid":true,"gridColor":"#b4b4b4","gridOpacity":{"condition":{"test":"datum.value === 30 || datum.value === 70","value":1},"value":0},"domainColor":"#000000","title":null}},
"y2":{"datum":11.5}}},
{"data":{"name":"bars"},"transform":[{"filter":"isValid(datum.m)"}],"mark":{"type":"rule","color":"#ffff00","strokeWidth":2},
"encoding":{"x":{"field":"k","type":"quantitative"},"y":{"field":"m","type":"quantitative"},"y2":{"datum":11.5}}},
{"data":{"name":"ind"},"transform":[{"filter":"datum.s === 'rsi' || datum.s === 'atr'"}],"mark":{"type":"line","strokeWidth":1.2},
"encoding":{"x":{"field":"k","type":"quantitative"},"y":{"field":"v","type":"quantitative"},
"color":{"field":"s","type":"nominal","scale":{"domain":["rsi","atr","s1","s2"],"range":["#1e90ff","#20b2aa","#ff0000","#ff69b4"]},"legend":null}}},
{"data":{"name":"ind"},"transform":[{"filter":"datum.s === 's1' || datum.s === 's2'"}],"mark":{"type":"line","strokeWidth":1.5,"strokeDash":[2,2]},
"encoding":{"x":{"field":"k","type":"quantitative"},"y":{"field":"v","type":"quantitative"},
"color":{"field":"s","type":"nominal","legend":null}}},
{"data":{"values":[{"t":"RSI(14) 42.88 MACD(12,26,9) -80.019 11.369 MACD(20,50,9) 99.581 203.778 ATR(14) 228.55"}]},"mark":{"type":"text","align":"left","baseline":"middle","fontSize":7,"color":"#000000","dx":2},
"encoding":{"x":{"datum":0},"y":{"datum":95.5},"text":{"field":"t"}}}
]}
]
}
